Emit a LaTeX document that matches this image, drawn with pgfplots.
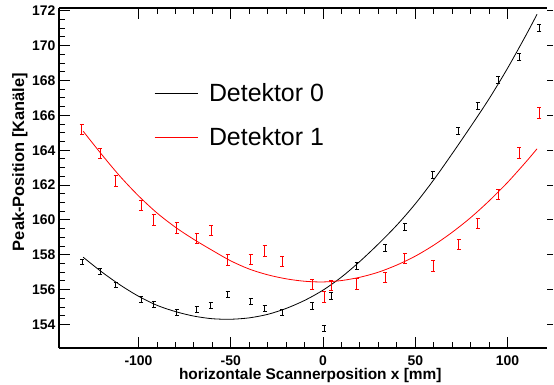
\documentclass[border=0pt]{standalone}
\usepackage{pgfplots}
\pgfplotsset{compat=1.18}
\usepackage{pgfplotstable}
\usepackage{fontspec}
\setmainfont{Liberation Sans}

\pgfplotstableread{
x y e
-130.6 157.59 0.17
-120.9 157.03 0.17
-112.4 156.27 0.17
-98.6 155.46 0.17
-91.8 155.17 0.17
-79.4 154.69 0.17
-68.5 154.87 0.17
-60.9 155.11 0.17
-51.7 155.73 0.17
-39.2 155.30 0.17
-31.7 154.92 0.17
-22.1 154.67 0.17
-5.8 155.07 0.19
0.5 153.77 0.19
4.3 155.65 0.19
18.2 157.36 0.19
33.8 158.38 0.2
44.3 159.62 0.2
59.4 162.56 0.2
73.4 165.13 0.2
83.8 166.57 0.2
94.9 168.01 0.2
106.4 169.35 0.2
117.3 171.00 0.2
}\detzero

\pgfplotstableread{
x y e
-130.8 165.19 0.3
-120.9 163.81 0.3
-112.4 162.25 0.3
-98.6 160.83 0.3
-91.8 160.01 0.3
-79.4 159.53 0.3
-68.5 158.95 0.3
-60.7 159.39 0.3
-51.7 157.71 0.3
-39.2 157.74 0.3
-31.7 158.22 0.3
-22.1 157.61 0.3
-5.8 156.31 0.3
0.7 155.57 0.3
4.3 156.25 0.3
18.2 156.32 0.3
33.8 156.71 0.3
44.3 157.78 0.3
59.6 157.37 0.3
73.6 158.60 0.3
83.8 159.80 0.3
94.9 161.45 0.3
106.4 163.85 0.3
117.3 166.13 0.3
}\detone

\pgfplotstableread{
x y
-130 157.86
-120 157.02
-110 156.27
-100 155.62
-90 155.10
-80 154.74
-70 154.48
-60 154.33
-50 154.30
-40 154.38
-30 154.58
-20 154.92
-10 155.38
0 155.97
10 156.72
20 157.62
30 158.62
40 159.70
50 160.92
60 162.30
70 163.80
80 165.35
90 166.95
100 168.70
110 170.60
116 171.80
}\fitzero

\pgfplotstableread{
x y
-130 165.09
-120 163.76
-110 162.50
-100 161.38
-90 160.40
-80 159.58
-70 158.88
-60 158.25
-50 157.65
-40 157.18
-30 156.85
-20 156.62
-10 156.48
0 156.44
10 156.52
20 156.71
30 157.00
40 157.41
50 157.92
60 158.55
70 159.29
80 160.13
90 161.09
100 162.15
110 163.33
116 164.08
}\fitone

\begin{document}
\begin{tikzpicture}
\pgfplotsset{
  common/.style={
    scale only axis, width=488bp, height=340bp,
    xmin=-143.1, xmax=121.4, ymin=152.65, ymax=172.16,
    at={(0,0)}, anchor=south west,
  }
}
\begin{axis}[
  common,
  axis y line*=left,
  axis x line*=box,
  tick align=inside,
  xtick={-100,-50,0,50,100},
  minor x tick num=4,
  ytick={154,156,...,172},
  minor y tick num=3,
  major tick length=11bp,
  minor tick length=6bp,
  axis line style={line width=1.4bp},
  every tick/.style={black, line width=0.9bp},
  /pgf/number format/assume math mode=true,
  tick label style={font=\fontsize{14}{14}\selectfont\bfseries},
  xticklabel style={yshift=-4bp},
  xlabel={horizontale Scannerposition x [mm]},
  ylabel={Peak-Position [Kan\"ale]},
  every axis x label/.style={at={(axis description cs:0.515,-0.0912)}, anchor=base,
    font=\fontsize{15.5}{15.5}\selectfont\bfseries},
  every axis y label/.style={at={(axis description cs:-0.0717,0.547)}, rotate=90, anchor=base,
    font=\fontsize{16.5}{16.5}\selectfont\bfseries},
  legend image code/.code={\draw[#1] (0bp,0bp) -- (43bp,0bp); \path (54bp,0bp);},
  legend cell align=left,
  legend style={draw=none, fill=none, inner sep=0pt,
    at={(axis description cs:0.1947,0.684)}, anchor=west,
    font=\fontsize{25}{25}\selectfont,
    nodes={inner sep=0pt},
    row sep=24bp},
]
\addplot[black, line width=0.8bp, smooth] table[x=x,y=y] {\fitzero};
\addlegendentry{Detektor 0}
\addplot[red, line width=0.8bp, smooth] table[x=x,y=y] {\fitone};
\addlegendentry{Detektor 1}
\addplot[black, only marks, mark=*, mark size=0pt, forget plot,
  error bars/.cd, y dir=both, y explicit, error mark=|,
  error bar style={black, line width=0.8bp},
  error mark options={black, mark size=2bp, line width=0.8bp}]
  table[x=x,y=y,y error=e] {\detzero};
\addplot[red, only marks, mark=*, mark size=0pt, forget plot,
  error bars/.cd, y dir=both, y explicit, error mark=|,
  error bar style={red, line width=0.8bp},
  error mark options={red, mark size=2bp, line width=0.8bp}]
  table[x=x,y=y,y error=e] {\detone};
\end{axis}
\begin{axis}[
  common,
  hide x axis,
  axis y line*=right,
  y axis line style={draw=none},
  tick align=outside,
  ytick={154,156,...,172},
  yticklabels={},
  minor y tick num=0,
  major tick length=6bp,
  every tick/.style={black, line width=0.9bp},
]
\end{axis}
\pgfresetboundingbox
\path (-59bp,-37bp) rectangle (495bp,348bp);
\end{tikzpicture}
\end{document}
